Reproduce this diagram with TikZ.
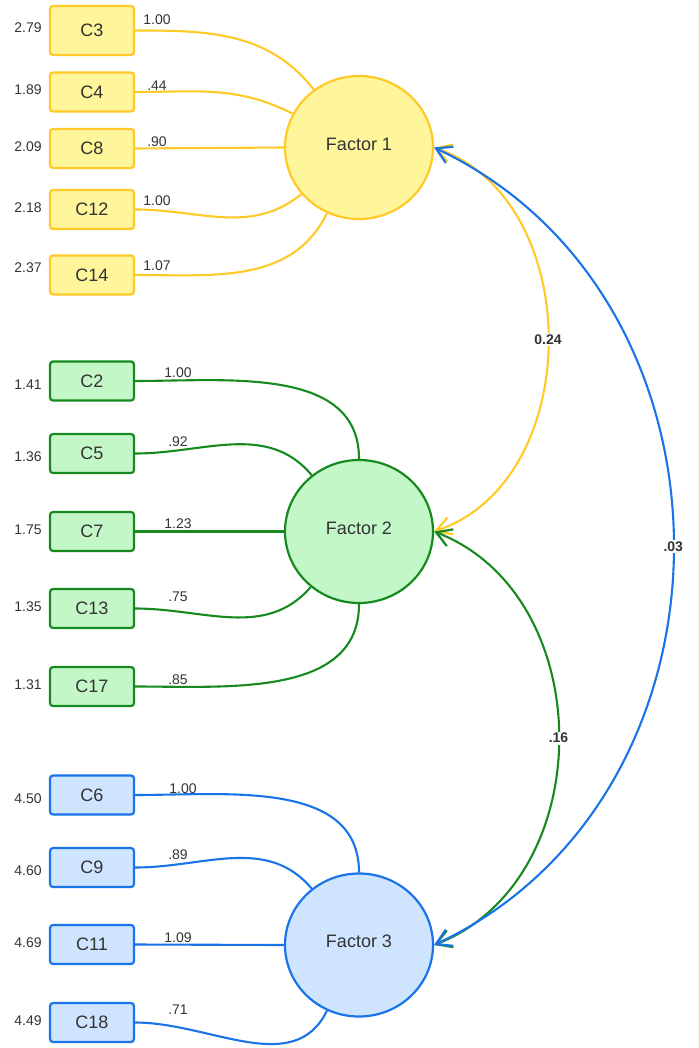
\documentclass[tikz,border=0pt]{standalone}
\usepackage{fontspec}
\setmainfont{Liberation Sans}
\usetikzlibrary{arrows.meta,shapes.geometric}
\definecolor{ys}{HTML}{FFC928}
\definecolor{yf}{HTML}{FFF59B}
\definecolor{gs}{HTML}{168A1E}
\definecolor{gf}{HTML}{C3F7C8}
\definecolor{bs}{HTML}{1A73E8}
\definecolor{bf}{HTML}{CFE4FF}
\definecolor{txt}{HTML}{333333}
\tikzset{
  mybarb/.tip={Straight Barb[length=15pt,width=18pt,line width=2.2pt]},
  obox/.style={draw, rounded corners=3pt, line width=2.2pt, minimum width=84pt, minimum height=39pt, inner sep=0pt, font=\fontsize{18}{20}\selectfont, text=txt},
  ybox/.style={obox, draw=ys, fill=yf},
  gbox/.style={obox, draw=gs, fill=gf},
  bbox/.style={obox, draw=bs, fill=bf},
  fac/.style={ellipse, draw, line width=2.2pt, minimum width=148pt, minimum height=143pt, inner sep=0pt, text depth=7pt, font=\fontsize{18}{20}\selectfont, text=txt},
  num/.style={font=\fontsize{14}{16}\selectfont, text=txt, inner sep=0pt},
  lnk/.style={line width=2.1pt},
  cov/.style={line width=2.1pt, mybarb-mybarb},
  covlab/.style={fill=white, font=\bfseries\fontsize{14}{16}\selectfont, text=txt, inner sep=1.5pt}
}
\begin{document}
\begin{tikzpicture}[x=1pt,y=-1pt]
\useasboundingbox (0,0) rectangle (698,1048);
% factors
\node[fac, draw=ys, fill=yf] (f1) at (359,147.5) {Factor 1};
\node[fac, draw=gs, fill=gf] (f2) at (359,531.5) {Factor 2};
\node[fac, draw=bs, fill=bf] (f3) at (359,945) {Factor 3};
% yellow boxes
\node[ybox, minimum height=49pt] (c3) at (92,30.5) {C3};
\node[ybox] (c4) at (92,92) {C4};
\node[ybox] (c8) at (92,148.5) {C8};
\node[ybox] (c12) at (92,209.5) {C12};
\node[ybox] (c14) at (92,275) {C14};
% green boxes
\node[gbox] (c2) at (92,381) {C2};
\node[gbox] (c5) at (92,453.5) {C5};
\node[gbox] (c7) at (92,531.5) {C7};
\node[gbox] (c13) at (92,608.5) {C13};
\node[gbox] (c17) at (92,686.5) {C17};
% blue boxes
\node[bbox] (c6) at (92,795) {C6};
\node[bbox] (c9) at (92,867.5) {C9};
\node[bbox] (c11) at (92,944.5) {C11};
\node[bbox] (c18) at (92,1022.5) {C18};
% left numbers
\node[num] (v3) at (28,28) {2.79};
\node[num] (v4) at (28,90) {1.89};
\node[num] (v8) at (28,147) {2.09};
\node[num] (v12) at (28,208) {2.18};
\node[num] (v14) at (28,268) {2.37};
\node[num] (v2) at (28,385) {1.41};
\node[num] (v5) at (28,457) {1.36};
\node[num] (v7) at (28,530) {1.75};
\node[num] (v13) at (28,607) {1.35};
\node[num] (v17) at (28,685) {1.31};
\node[num] (v6) at (28,799) {4.50};
\node[num] (v9) at (28,871) {4.60};
\node[num] (v11) at (28,943) {4.69};
\node[num] (v18) at (28,1021) {4.49};
% yellow loadings
\draw[lnk, ys] (c3.east) to[out=0,in=128] (f1.128);
\draw[lnk, ys] (c4.east) to[out=0,in=153] (f1.153);
\draw[lnk, ys] (c8.east) -- (f1.180);
\draw[lnk, ys] (c12.east) to[out=0,in=219] (f1.219);
\draw[lnk, ys] (c14.east) to[out=0,in=244] (f1.244);
% green loadings
\draw[lnk, gs] (c2.east) to[out=0,in=90] (f2.90);
\draw[lnk, gs] (c5.east) to[out=0,in=130] (f2.130);
\draw[lnk, gs] (c7.east) -- (f2.180);
\draw[lnk, gs] (c13.east) to[out=0,in=229] (f2.229);
\draw[lnk, gs] (c17.east) to[out=0,in=270] (f2.270);
% blue loadings
\draw[lnk, bs] (c6.east) to[out=0,in=90] (f3.90);
\draw[lnk, bs] (c9.east) to[out=0,in=130] (f3.130);
\draw[lnk, bs] (c11.east) -- (f3.180);
\draw[lnk, bs] (c18.east) to[out=0,in=244] (f3.244);
% loading labels
\node[num] (l3) at (157,20) {1.00};
\node[num] (l4) at (157,86) {.44};
\node[num] (l8) at (157,142) {.90};
\node[num] (l12) at (157,201) {1.00};
\node[num] (l14) at (157,266) {1.07};
\node[num] (l2) at (178,373) {1.00};
\node[num] (l5) at (178,442) {.92};
\node[num] (l7) at (178,524) {1.23};
\node[num] (l13) at (178,597) {.75};
\node[num] (l17) at (178,680) {.85};
\node[num] (l6) at (183,789) {1.00};
\node[num] (l9) at (178,855) {.89};
\node[num] (l11) at (178,938) {1.09};
\node[num] (l18) at (178,1010) {.71};
% covariances
\draw[cov, ys] (f1.east) .. controls (586,200) and (586,480) .. node[covlab] (k12) {0.24} (f2.east);
\draw[cov, gs] (f2.east) .. controls (600,596) and (600,880) .. node[covlab] (k23) {.16} (f3.east);
\draw[cov, bs] (f1.east) .. controls (753,298) and (753,795) .. node[covlab] (k13) {.03} (f3.east);
\end{tikzpicture}
\end{document}
